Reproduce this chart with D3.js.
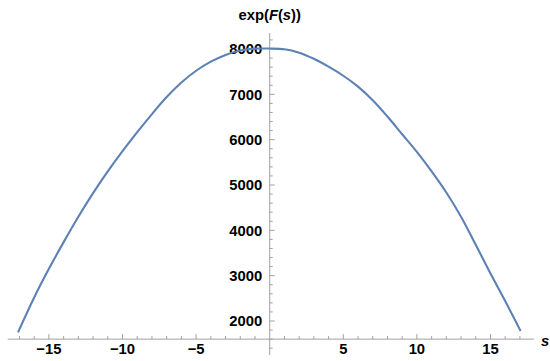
<!DOCTYPE html>
<html><head><meta charset="utf-8">
<script src="https://cdn.jsdelivr.net/npm/d3@7"></script>
<style>body{margin:0;background:#fff}svg{display:block}</style>
</head><body><svg id="c" width="550" height="361"></svg>
<script>
const sValues = [-17.1,-16,-15,-14,-13,-12,-11,-10,-9,-8,-7,-6,-5,-4,-3,-2,-1,0,1,2,3,4,5,6,7,8,9,10,11,12,13,14,15,16,17,17.05];
const fValues = [1750,2520,3150,3740,4300,4820,5300,5745,6165,6565,6940,7260,7520,7720,7870,7965,8008,8010,7995,7920,7785,7610,7410,7170,6870,6510,6120,5730,5300,4835,4300,3680,3050,2440,1810,1780];
const xMajor = [-15,-10,-5,5,10,15];
const yMajor = [2000,3000,4000,5000,6000,7000,8000];

const svg = d3.select("#c");
const x = d3.scaleLinear().domain([-17.8,17.95]).range([7.7,533.9]);
const y = d3.scaleLinear().domain([1250,8353]).range([355,33]);
const axisColor = "#a0a0a0";
const y0 = y(1600), x0 = x(0);

svg.append("line").attr("x1",x.range()[0]).attr("x2",x.range()[1]).attr("y1",y0).attr("y2",y0)
  .attr("stroke",axisColor).attr("stroke-width",1);
svg.append("line").attr("x1",x0).attr("x2",x0).attr("y1",y.range()[1]).attr("y2",y.range()[0])
  .attr("stroke",axisColor).attr("stroke-width",1);

const xMinor = d3.range(-17,18,1).filter(v=>v!==0);
svg.append("g").selectAll("line").data(xMinor).join("line")
  .attr("x1",d=>x(d)).attr("x2",d=>x(d)).attr("y1",y0).attr("y2",d=>y0-(d%5===0?5:3))
  .attr("stroke",axisColor);
const yMinor = d3.range(1400,8400,200);
svg.append("g").selectAll("line").data(yMinor).join("line")
  .attr("x1",x0).attr("x2",d=>x0+(d%1000===0?5:3)).attr("y1",d=>y(d)).attr("y2",d=>y(d))
  .attr("stroke",axisColor);

const font = "'Liberation Sans', Arial, sans-serif";
const fs = "14.8px";
svg.append("g").selectAll("text").data(xMajor).join("text")
  .attr("x",d=>x(d)).attr("y",354).attr("text-anchor","middle")
  .attr("font-family",font).attr("font-weight","bold").attr("font-size",fs)
  .text(d=>d<0?"\u2212"+Math.abs(d):d);
svg.append("g").selectAll("text").data(yMajor).join("text")
  .attr("x",x0-7.5).attr("y",d=>y(d)).attr("dy","0.36em").attr("text-anchor","end")
  .attr("font-family",font).attr("font-weight","bold").attr("font-size",fs)
  .text(d=>d);

const t = svg.append("text").attr("x",x0).attr("y",20).attr("text-anchor","middle")
  .attr("font-family",font).attr("font-weight","bold").attr("font-size",fs);
t.append("tspan").text("exp(");
t.append("tspan").attr("font-style","italic").text("F");
t.append("tspan").text("(");
t.append("tspan").attr("font-style","italic").text("s");
t.append("tspan").text("))");
svg.append("text").attr("x",541).attr("y",345.5).attr("font-family",font).attr("font-weight","bold")
  .attr("font-style","italic").attr("font-size",fs).text("s");

const data = sValues.map((s,i)=>[s,fValues[i]]);
svg.append("path").datum(data)
  .attr("d",d3.line().x(d=>x(d[0])).y(d=>y(d[1])).curve(d3.curveCatmullRom))
  .attr("fill","none").attr("stroke","#5e81b5").attr("stroke-width",2.1);
</script></body></html>
